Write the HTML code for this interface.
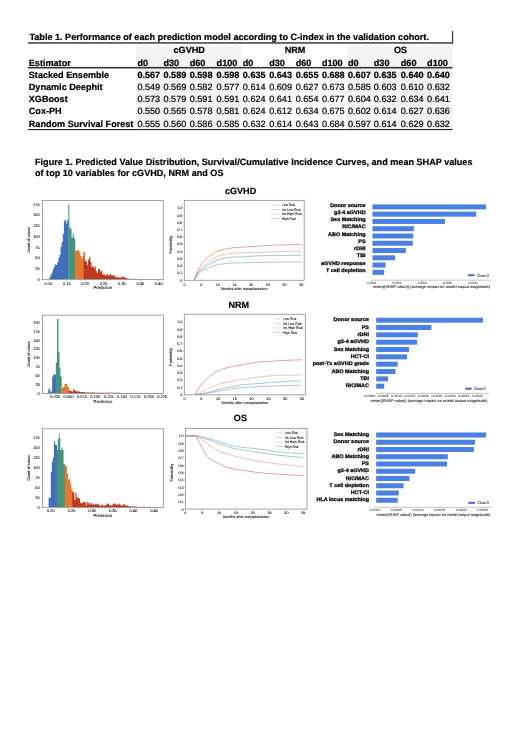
<!DOCTYPE html>
<html><head><meta charset="utf-8"><title>Table 1 and Figure 1</title>
<style>
html,body{margin:0;padding:0;background:#fff;}
body{width:520px;height:735px;overflow:hidden;}
svg{display:block;font-family:"Liberation Sans", sans-serif;text-rendering:geometricPrecision;will-change:transform;}
</style></head><body>
<svg width="520" height="735" viewBox="0 0 520 735">
<rect width="520" height="735" fill="#fff"/>
<rect x="136.30" y="45.50" width="104.90" height="84.00" fill="#f3f3f3" />
<rect x="346.90" y="45.50" width="105.60" height="84.00" fill="#f3f3f3" />
<text x="29.40" y="40.00" font-size="9.1" font-weight="bold" stroke="#000" stroke-width="0.22" text-anchor="start" fill="#000" >Table 1. Performance of each prediction model according to C-index in the validation cohort.</text>
<rect x="28.00" y="42.20" width="425.00" height="1.50" fill="#3c3c3c" />
<rect x="451.90" y="31.00" width="1.30" height="12.50" fill="#3c3c3c" />
<text x="189.20" y="52.60" font-size="9.1" font-weight="bold" stroke="#000" stroke-width="0.22" text-anchor="middle" fill="#000" >cGVHD</text>
<text x="295.10" y="52.60" font-size="9.1" font-weight="bold" stroke="#000" stroke-width="0.22" text-anchor="middle" fill="#000" >NRM</text>
<text x="400.50" y="52.60" font-size="9.1" font-weight="bold" stroke="#000" stroke-width="0.22" text-anchor="middle" fill="#000" >OS</text>
<text x="28.80" y="65.90" font-size="9.1" font-weight="bold" stroke="#000" stroke-width="0.22" text-anchor="start" fill="#000" >Estimator</text>
<text x="137.40" y="65.90" font-size="9.1" font-weight="bold" stroke="#000" stroke-width="0.22" text-anchor="start" fill="#000" >d0</text>
<text x="163.50" y="65.90" font-size="9.1" font-weight="bold" stroke="#000" stroke-width="0.22" text-anchor="start" fill="#000" >d30</text>
<text x="189.70" y="65.90" font-size="9.1" font-weight="bold" stroke="#000" stroke-width="0.22" text-anchor="start" fill="#000" >d60</text>
<text x="216.60" y="65.90" font-size="9.1" font-weight="bold" stroke="#000" stroke-width="0.22" text-anchor="start" fill="#000" >d100</text>
<text x="242.80" y="65.90" font-size="9.1" font-weight="bold" stroke="#000" stroke-width="0.22" text-anchor="start" fill="#000" >d0</text>
<text x="269.20" y="65.90" font-size="9.1" font-weight="bold" stroke="#000" stroke-width="0.22" text-anchor="start" fill="#000" >d30</text>
<text x="295.70" y="65.90" font-size="9.1" font-weight="bold" stroke="#000" stroke-width="0.22" text-anchor="start" fill="#000" >d60</text>
<text x="321.90" y="65.90" font-size="9.1" font-weight="bold" stroke="#000" stroke-width="0.22" text-anchor="start" fill="#000" >d100</text>
<text x="348.00" y="65.90" font-size="9.1" font-weight="bold" stroke="#000" stroke-width="0.22" text-anchor="start" fill="#000" >d0</text>
<text x="373.80" y="65.90" font-size="9.1" font-weight="bold" stroke="#000" stroke-width="0.22" text-anchor="start" fill="#000" >d30</text>
<text x="400.80" y="65.90" font-size="9.1" font-weight="bold" stroke="#000" stroke-width="0.22" text-anchor="start" fill="#000" >d60</text>
<text x="427.10" y="65.90" font-size="9.1" font-weight="bold" stroke="#000" stroke-width="0.22" text-anchor="start" fill="#000" >d100</text>
<rect x="28.00" y="66.90" width="424.50" height="1.60" fill="#353535" />
<text x="28.80" y="77.70" font-size="9.1" font-weight="bold" stroke="#000" stroke-width="0.22" text-anchor="start" fill="#000" >Stacked Ensemble</text>
<text x="137.40" y="77.70" font-size="9.1" font-weight="bold" stroke="#000" stroke-width="0.22" text-anchor="start" fill="#000" >0.567</text>
<text x="163.50" y="77.70" font-size="9.1" font-weight="bold" stroke="#000" stroke-width="0.22" text-anchor="start" fill="#000" >0.589</text>
<text x="189.70" y="77.70" font-size="9.1" font-weight="bold" stroke="#000" stroke-width="0.22" text-anchor="start" fill="#000" >0.598</text>
<text x="216.60" y="77.70" font-size="9.1" font-weight="bold" stroke="#000" stroke-width="0.22" text-anchor="start" fill="#000" >0.598</text>
<text x="242.80" y="77.70" font-size="9.1" font-weight="bold" stroke="#000" stroke-width="0.22" text-anchor="start" fill="#000" >0.635</text>
<text x="269.20" y="77.70" font-size="9.1" font-weight="bold" stroke="#000" stroke-width="0.22" text-anchor="start" fill="#000" >0.643</text>
<text x="295.70" y="77.70" font-size="9.1" font-weight="bold" stroke="#000" stroke-width="0.22" text-anchor="start" fill="#000" >0.655</text>
<text x="321.90" y="77.70" font-size="9.1" font-weight="bold" stroke="#000" stroke-width="0.22" text-anchor="start" fill="#000" >0.688</text>
<text x="348.00" y="77.70" font-size="9.1" font-weight="bold" stroke="#000" stroke-width="0.22" text-anchor="start" fill="#000" >0.607</text>
<text x="373.80" y="77.70" font-size="9.1" font-weight="bold" stroke="#000" stroke-width="0.22" text-anchor="start" fill="#000" >0.635</text>
<text x="400.80" y="77.70" font-size="9.1" font-weight="bold" stroke="#000" stroke-width="0.22" text-anchor="start" fill="#000" >0.640</text>
<text x="427.10" y="77.70" font-size="9.1" font-weight="bold" stroke="#000" stroke-width="0.22" text-anchor="start" fill="#000" >0.640</text>
<text x="28.80" y="89.70" font-size="9.1" font-weight="bold" stroke="#000" stroke-width="0.22" text-anchor="start" fill="#000" >Dynamic Deephit</text>
<text x="137.40" y="89.70" font-size="9.1" stroke="#000" stroke-width="0.22" text-anchor="start" fill="#000" >0.549</text>
<text x="163.50" y="89.70" font-size="9.1" stroke="#000" stroke-width="0.22" text-anchor="start" fill="#000" >0.569</text>
<text x="189.70" y="89.70" font-size="9.1" stroke="#000" stroke-width="0.22" text-anchor="start" fill="#000" >0.582</text>
<text x="216.60" y="89.70" font-size="9.1" stroke="#000" stroke-width="0.22" text-anchor="start" fill="#000" >0.577</text>
<text x="242.80" y="89.70" font-size="9.1" stroke="#000" stroke-width="0.22" text-anchor="start" fill="#000" >0.614</text>
<text x="269.20" y="89.70" font-size="9.1" stroke="#000" stroke-width="0.22" text-anchor="start" fill="#000" >0.609</text>
<text x="295.70" y="89.70" font-size="9.1" stroke="#000" stroke-width="0.22" text-anchor="start" fill="#000" >0.627</text>
<text x="321.90" y="89.70" font-size="9.1" stroke="#000" stroke-width="0.22" text-anchor="start" fill="#000" >0.673</text>
<text x="348.00" y="89.70" font-size="9.1" stroke="#000" stroke-width="0.22" text-anchor="start" fill="#000" >0.585</text>
<text x="373.80" y="89.70" font-size="9.1" stroke="#000" stroke-width="0.22" text-anchor="start" fill="#000" >0.603</text>
<text x="400.80" y="89.70" font-size="9.1" stroke="#000" stroke-width="0.22" text-anchor="start" fill="#000" >0.610</text>
<text x="427.10" y="89.70" font-size="9.1" stroke="#000" stroke-width="0.22" text-anchor="start" fill="#000" >0.632</text>
<text x="28.80" y="101.90" font-size="9.1" font-weight="bold" stroke="#000" stroke-width="0.22" text-anchor="start" fill="#000" >XGBoost</text>
<text x="137.40" y="101.90" font-size="9.1" stroke="#000" stroke-width="0.22" text-anchor="start" fill="#000" >0.573</text>
<text x="163.50" y="101.90" font-size="9.1" stroke="#000" stroke-width="0.22" text-anchor="start" fill="#000" >0.579</text>
<text x="189.70" y="101.90" font-size="9.1" stroke="#000" stroke-width="0.22" text-anchor="start" fill="#000" >0.591</text>
<text x="216.60" y="101.90" font-size="9.1" stroke="#000" stroke-width="0.22" text-anchor="start" fill="#000" >0.591</text>
<text x="242.80" y="101.90" font-size="9.1" stroke="#000" stroke-width="0.22" text-anchor="start" fill="#000" >0.624</text>
<text x="269.20" y="101.90" font-size="9.1" stroke="#000" stroke-width="0.22" text-anchor="start" fill="#000" >0.641</text>
<text x="295.70" y="101.90" font-size="9.1" stroke="#000" stroke-width="0.22" text-anchor="start" fill="#000" >0.654</text>
<text x="321.90" y="101.90" font-size="9.1" stroke="#000" stroke-width="0.22" text-anchor="start" fill="#000" >0.677</text>
<text x="348.00" y="101.90" font-size="9.1" stroke="#000" stroke-width="0.22" text-anchor="start" fill="#000" >0.604</text>
<text x="373.80" y="101.90" font-size="9.1" stroke="#000" stroke-width="0.22" text-anchor="start" fill="#000" >0.632</text>
<text x="400.80" y="101.90" font-size="9.1" stroke="#000" stroke-width="0.22" text-anchor="start" fill="#000" >0.634</text>
<text x="427.10" y="101.90" font-size="9.1" stroke="#000" stroke-width="0.22" text-anchor="start" fill="#000" >0.641</text>
<text x="28.80" y="114.20" font-size="9.1" font-weight="bold" stroke="#000" stroke-width="0.22" text-anchor="start" fill="#000" >Cox-PH</text>
<text x="137.40" y="114.20" font-size="9.1" stroke="#000" stroke-width="0.22" text-anchor="start" fill="#000" >0.550</text>
<text x="163.50" y="114.20" font-size="9.1" stroke="#000" stroke-width="0.22" text-anchor="start" fill="#000" >0.565</text>
<text x="189.70" y="114.20" font-size="9.1" stroke="#000" stroke-width="0.22" text-anchor="start" fill="#000" >0.578</text>
<text x="216.60" y="114.20" font-size="9.1" stroke="#000" stroke-width="0.22" text-anchor="start" fill="#000" >0.581</text>
<text x="242.80" y="114.20" font-size="9.1" stroke="#000" stroke-width="0.22" text-anchor="start" fill="#000" >0.624</text>
<text x="269.20" y="114.20" font-size="9.1" stroke="#000" stroke-width="0.22" text-anchor="start" fill="#000" >0.612</text>
<text x="295.70" y="114.20" font-size="9.1" stroke="#000" stroke-width="0.22" text-anchor="start" fill="#000" >0.634</text>
<text x="321.90" y="114.20" font-size="9.1" stroke="#000" stroke-width="0.22" text-anchor="start" fill="#000" >0.675</text>
<text x="348.00" y="114.20" font-size="9.1" stroke="#000" stroke-width="0.22" text-anchor="start" fill="#000" >0.602</text>
<text x="373.80" y="114.20" font-size="9.1" stroke="#000" stroke-width="0.22" text-anchor="start" fill="#000" >0.614</text>
<text x="400.80" y="114.20" font-size="9.1" stroke="#000" stroke-width="0.22" text-anchor="start" fill="#000" >0.627</text>
<text x="427.10" y="114.20" font-size="9.1" stroke="#000" stroke-width="0.22" text-anchor="start" fill="#000" >0.636</text>
<text x="28.80" y="126.70" font-size="9.1" font-weight="bold" stroke="#000" stroke-width="0.22" text-anchor="start" fill="#000" >Random Survival Forest</text>
<text x="137.40" y="126.70" font-size="9.1" stroke="#000" stroke-width="0.22" text-anchor="start" fill="#000" >0.555</text>
<text x="163.50" y="126.70" font-size="9.1" stroke="#000" stroke-width="0.22" text-anchor="start" fill="#000" >0.560</text>
<text x="189.70" y="126.70" font-size="9.1" stroke="#000" stroke-width="0.22" text-anchor="start" fill="#000" >0.586</text>
<text x="216.60" y="126.70" font-size="9.1" stroke="#000" stroke-width="0.22" text-anchor="start" fill="#000" >0.585</text>
<text x="242.80" y="126.70" font-size="9.1" stroke="#000" stroke-width="0.22" text-anchor="start" fill="#000" >0.632</text>
<text x="269.20" y="126.70" font-size="9.1" stroke="#000" stroke-width="0.22" text-anchor="start" fill="#000" >0.614</text>
<text x="295.70" y="126.70" font-size="9.1" stroke="#000" stroke-width="0.22" text-anchor="start" fill="#000" >0.643</text>
<text x="321.90" y="126.70" font-size="9.1" stroke="#000" stroke-width="0.22" text-anchor="start" fill="#000" >0.684</text>
<text x="348.00" y="126.70" font-size="9.1" stroke="#000" stroke-width="0.22" text-anchor="start" fill="#000" >0.597</text>
<text x="373.80" y="126.70" font-size="9.1" stroke="#000" stroke-width="0.22" text-anchor="start" fill="#000" >0.614</text>
<text x="400.80" y="126.70" font-size="9.1" stroke="#000" stroke-width="0.22" text-anchor="start" fill="#000" >0.629</text>
<text x="427.10" y="126.70" font-size="9.1" stroke="#000" stroke-width="0.22" text-anchor="start" fill="#000" >0.632</text>
<rect x="28.00" y="129.00" width="424.50" height="1.10" fill="#222" />
<text x="35.00" y="164.50" font-size="9.1" font-weight="bold" stroke="#000" stroke-width="0.18" text-anchor="start" fill="#000" >Figure 1. Predicted Value Distribution, Survival/Cumulative Incidence Curves, and mean SHAP values</text>
<text x="35.00" y="175.75" font-size="9.1" font-weight="bold" stroke="#000" stroke-width="0.18" text-anchor="start" fill="#000" >of top 10 variables for cGVHD, NRM and OS</text>
<text x="240.60" y="193.60" font-size="9.1" font-weight="bold" stroke="#000" stroke-width="0.18" text-anchor="middle" fill="#000" >cGVHD</text>
<text x="238.80" y="307.70" font-size="9.1" font-weight="bold" stroke="#000" stroke-width="0.18" text-anchor="middle" fill="#000" >NRM</text>
<text x="240.40" y="421.10" font-size="9.1" font-weight="bold" stroke="#000" stroke-width="0.18" text-anchor="middle" fill="#000" >OS</text>
<path d="M49.60,279.60 L49.60,277.08 L50.70,277.08 L50.70,274.86 L51.80,274.86 L51.80,272.40 L52.90,272.40 L52.90,268.94 L54.00,268.94 L54.00,266.17 L55.10,266.17 L55.10,264.44 L56.20,264.44 L56.20,264.75 L57.30,264.75 L57.30,262.29 L58.40,262.29 L58.40,258.03 L59.50,258.03 L59.50,254.95 L60.60,254.95 L60.60,246.92 L61.70,246.92 L61.70,241.90 L62.80,241.90 L62.80,233.95 L63.90,233.95 L63.90,220.82 L65.00,220.82 L65.00,219.94 L66.10,219.94 L66.10,223.60 L67.20,223.60 L67.20,219.67 L68.65,219.67 L68.65,279.60Z" fill="#4271c2"/>
<path d="M68.30,279.60 L68.30,204.50 L69.40,204.50 L69.40,227.31 L70.50,227.31 L70.50,229.10 L71.60,229.10 L71.60,237.72 L72.70,237.72 L72.70,233.43 L73.80,233.43 L73.80,238.28 L75.25,238.28 L75.25,279.60Z" fill="#46987f"/>
<path d="M74.90,279.60 L74.90,250.57 L76.00,250.57 L76.00,250.67 L77.10,250.67 L77.10,249.78 L78.20,249.78 L78.20,250.56 L79.30,250.56 L79.30,252.21 L80.40,252.21 L80.40,255.71 L81.50,255.71 L81.50,258.14 L82.60,258.14 L82.60,255.63 L84.05,255.63 L84.05,279.60Z" fill="#e97c35"/>
<path d="M83.70,279.60 L83.70,251.79 L84.80,251.79 L84.80,260.57 L85.90,260.57 L85.90,261.78 L87.00,261.78 L87.00,265.09 L88.10,265.09 L88.10,259.60 L89.20,259.60 L89.20,256.67 L90.30,256.67 L90.30,261.79 L91.40,261.79 L91.40,267.03 L92.50,267.03 L92.50,265.69 L93.60,265.69 L93.60,268.19 L94.70,268.19 L94.70,266.35 L95.80,266.35 L95.80,270.97 L96.90,270.97 L96.90,272.88 L98.00,272.88 L98.00,269.36 L99.10,269.36 L99.10,268.65 L100.20,268.65 L100.20,271.65 L101.30,271.65 L101.30,270.81 L102.40,270.81 L102.40,274.13 L103.50,274.13 L103.50,274.63 L104.60,274.63 L104.60,274.43 L105.70,274.43 L105.70,275.84 L106.80,275.84 L106.80,273.66 L107.90,273.66 L107.90,275.06 L109.00,275.06 L109.00,275.77 L110.10,275.77 L110.10,273.85 L111.20,273.85 L111.20,275.18 L112.30,275.18 L112.30,275.55 L113.40,275.55 L113.40,275.10 L114.50,275.10 L114.50,276.40 L115.60,276.40 L115.60,277.01 L116.70,277.01 L116.70,277.83 L117.80,277.83 L117.80,276.71 L118.90,276.71 L118.90,277.76 L120.00,277.76 L120.00,277.60 L121.10,277.60 L121.10,277.57 L122.20,277.57 L122.20,276.13 L123.30,276.13 L123.30,277.13 L124.40,277.13 L124.40,277.28 L125.50,277.28 L125.50,277.92 L126.60,277.92 L126.60,278.46 L127.70,278.46 L127.70,278.43 L128.80,278.43 L128.80,278.76 L129.90,278.76 L129.90,278.96 L131.00,278.96 L131.00,278.91 L132.10,278.91 L132.10,278.76 L133.20,278.76 L133.20,279.05 L134.30,279.05 L134.30,278.78 L135.40,278.78 L135.40,279.09 L136.50,279.09 L136.50,279.16 L137.60,279.16 L137.60,278.82 L138.70,278.82 L138.70,278.99 L139.80,278.99 L139.80,279.14 L140.90,279.14 L140.90,279.09 L142.00,279.09 L142.00,279.19 L143.10,279.19 L143.10,279.03 L144.20,279.03 L144.20,279.02 L145.30,279.02 L145.30,279.11 L146.40,279.11 L146.40,279.07 L147.50,279.07 L147.50,278.91 L148.60,278.91 L148.60,278.94 L149.70,278.94 L149.70,279.21 L150.80,279.21 L150.80,279.12 L151.90,279.12 L151.90,279.03 L153.00,279.03 L153.00,279.01 L154.10,279.01 L154.10,279.06 L155.20,279.06 L155.20,279.01 L156.30,279.01 L156.30,279.28 L157.40,279.28 L157.40,279.31 L158.50,279.31 L158.50,279.17 L159.60,279.17 L159.60,279.32 L161.05,279.32 L161.05,279.60Z" fill="#c23c22"/>
<path d="M49.60,277.38V279.60M50.70,275.16V279.60M51.80,272.70V279.60M52.90,269.24V279.60M54.00,266.47V279.60M55.10,264.74V279.60M56.20,265.05V279.60M57.30,262.59V279.60M58.40,258.33V279.60M59.50,255.25V279.60M60.60,247.22V279.60M61.70,242.20V279.60M62.80,234.25V279.60M63.90,221.12V279.60M65.00,220.24V279.60M66.10,223.90V279.60M67.20,219.97V279.60M68.30,204.80V279.60M69.40,227.61V279.60M70.50,229.40V279.60M71.60,238.02V279.60M72.70,233.73V279.60M73.80,238.58V279.60M74.90,250.87V279.60M76.00,250.97V279.60M77.10,250.08V279.60M78.20,250.86V279.60M79.30,252.51V279.60M80.40,256.01V279.60M81.50,258.44V279.60M82.60,255.93V279.60M83.70,252.09V279.60M84.80,260.87V279.60M85.90,262.08V279.60M87.00,265.39V279.60M88.10,259.90V279.60M89.20,256.97V279.60M90.30,262.09V279.60M91.40,267.33V279.60M92.50,265.99V279.60M93.60,268.49V279.60M94.70,266.65V279.60M95.80,271.27V279.60M96.90,273.18V279.60M98.00,269.66V279.60M99.10,268.95V279.60M100.20,271.95V279.60M101.30,271.11V279.60M102.40,274.43V279.60M103.50,274.93V279.60M104.60,274.73V279.60M105.70,276.14V279.60M106.80,273.96V279.60M107.90,275.36V279.60M109.00,276.07V279.60M110.10,274.15V279.60M111.20,275.48V279.60M112.30,275.85V279.60M113.40,275.40V279.60M114.50,276.70V279.60M115.60,277.31V279.60M116.70,278.13V279.60M117.80,277.01V279.60M118.90,278.06V279.60M120.00,277.90V279.60M121.10,277.87V279.60M122.20,276.43V279.60M123.30,277.43V279.60M124.40,277.58V279.60M125.50,278.22V279.60M126.60,278.76V279.60M127.70,278.73V279.60" stroke="#000" stroke-opacity="0.10" stroke-width="0.3" fill="none"/>
<rect x="42.40" y="200.50" width="120.90" height="79.10" fill="none" stroke="#9a9a9a" stroke-width="0.9"/>
<line x1="41.20" y1="279.60" x2="42.40" y2="279.60" stroke="#9a9a9a" stroke-width="0.5" />
<text x="39.80" y="281.00" font-size="4.0" stroke="#111" stroke-width="0.09" text-anchor="end" fill="#111" >0</text>
<line x1="41.20" y1="268.83" x2="42.40" y2="268.83" stroke="#9a9a9a" stroke-width="0.5" />
<text x="39.80" y="270.23" font-size="4.0" stroke="#111" stroke-width="0.09" text-anchor="end" fill="#111" >25</text>
<line x1="41.20" y1="258.06" x2="42.40" y2="258.06" stroke="#9a9a9a" stroke-width="0.5" />
<text x="39.80" y="259.46" font-size="4.0" stroke="#111" stroke-width="0.09" text-anchor="end" fill="#111" >50</text>
<line x1="41.20" y1="247.29" x2="42.40" y2="247.29" stroke="#9a9a9a" stroke-width="0.5" />
<text x="39.80" y="248.69" font-size="4.0" stroke="#111" stroke-width="0.09" text-anchor="end" fill="#111" >75</text>
<line x1="41.20" y1="236.52" x2="42.40" y2="236.52" stroke="#9a9a9a" stroke-width="0.5" />
<text x="39.80" y="237.92" font-size="4.0" stroke="#111" stroke-width="0.09" text-anchor="end" fill="#111" >100</text>
<line x1="41.20" y1="225.75" x2="42.40" y2="225.75" stroke="#9a9a9a" stroke-width="0.5" />
<text x="39.80" y="227.15" font-size="4.0" stroke="#111" stroke-width="0.09" text-anchor="end" fill="#111" >125</text>
<line x1="41.20" y1="214.98" x2="42.40" y2="214.98" stroke="#9a9a9a" stroke-width="0.5" />
<text x="39.80" y="216.38" font-size="4.0" stroke="#111" stroke-width="0.09" text-anchor="end" fill="#111" >150</text>
<line x1="41.20" y1="204.21" x2="42.40" y2="204.21" stroke="#9a9a9a" stroke-width="0.5" />
<text x="39.80" y="205.61" font-size="4.0" stroke="#111" stroke-width="0.09" text-anchor="end" fill="#111" >175</text>
<line x1="48.40" y1="279.60" x2="48.40" y2="280.80" stroke="#9a9a9a" stroke-width="0.5" />
<text x="48.40" y="284.60" font-size="4.0" stroke="#111" stroke-width="0.09" text-anchor="middle" fill="#111" >0.10</text>
<line x1="66.79" y1="279.60" x2="66.79" y2="280.80" stroke="#9a9a9a" stroke-width="0.5" />
<text x="66.79" y="284.60" font-size="4.0" stroke="#111" stroke-width="0.09" text-anchor="middle" fill="#111" >0.15</text>
<line x1="85.18" y1="279.60" x2="85.18" y2="280.80" stroke="#9a9a9a" stroke-width="0.5" />
<text x="85.18" y="284.60" font-size="4.0" stroke="#111" stroke-width="0.09" text-anchor="middle" fill="#111" >0.20</text>
<line x1="103.57" y1="279.60" x2="103.57" y2="280.80" stroke="#9a9a9a" stroke-width="0.5" />
<text x="103.57" y="284.60" font-size="4.0" stroke="#111" stroke-width="0.09" text-anchor="middle" fill="#111" >0.25</text>
<line x1="121.96" y1="279.60" x2="121.96" y2="280.80" stroke="#9a9a9a" stroke-width="0.5" />
<text x="121.96" y="284.60" font-size="4.0" stroke="#111" stroke-width="0.09" text-anchor="middle" fill="#111" >0.30</text>
<line x1="140.35" y1="279.60" x2="140.35" y2="280.80" stroke="#9a9a9a" stroke-width="0.5" />
<text x="140.35" y="284.60" font-size="4.0" stroke="#111" stroke-width="0.09" text-anchor="middle" fill="#111" >0.35</text>
<line x1="158.74" y1="279.60" x2="158.74" y2="280.80" stroke="#9a9a9a" stroke-width="0.5" />
<text x="158.74" y="284.60" font-size="4.0" stroke="#111" stroke-width="0.09" text-anchor="middle" fill="#111" >0.40</text>
<text x="102.85" y="289.20" font-size="4.2" stroke="#111" stroke-width="0.09" text-anchor="middle" fill="#111" >Prediction</text>
<text x="0" y="0" font-size="3.9" text-anchor="middle" fill="#111" stroke="#111" stroke-width="0.09" transform="translate(30.20,240.05) rotate(-90)">Count of cases</text>
<path d="M48.35,393.40 L48.35,389.10 L50.08,389.10 L50.08,391.60 L52.15,391.60 L52.15,376.60 L53.54,376.60 L53.54,373.70 L54.92,373.70 L54.92,374.90 L56.20,374.90 L56.20,393.40Z" fill="#4271c2"/>
<path d="M55.85,393.40 L55.85,362.80 L57.00,362.80 L57.00,318.90 L58.50,318.90 L58.50,351.80 L59.54,351.80 L59.54,368.50 L60.46,368.50 L60.46,376.60 L61.73,376.60 L61.73,393.40Z" fill="#46987f"/>
<path d="M61.38,393.40 L61.38,388.20 L62.77,388.20 L62.77,387.00 L64.50,387.00 L64.50,384.10 L66.23,384.10 L66.23,383.50 L67.38,383.50 L67.38,387.00 L69.12,387.00 L69.12,393.40Z" fill="#e97c35"/>
<path d="M68.77,393.40 L68.77,390.50 L70.27,390.50 L70.27,391.20 L72.00,391.20 L72.00,391.60 L73.15,391.60 L73.15,389.30 L74.54,389.30 L74.54,391.00 L77.00,391.00 L77.00,391.60 L80.00,391.60 L80.00,392.00 L85.00,392.00 L85.00,392.40 L95.00,392.40 L95.00,392.70 L120.00,392.70 L120.00,392.90 L161.35,392.90 L161.35,393.40Z" fill="#c23c22"/>
<path d="M48.35,389.40V393.40M50.08,391.90V393.40M52.15,376.90V393.40M53.54,374.00V393.40M54.92,375.20V393.40M55.85,363.10V393.40M57.00,319.20V393.40M58.50,352.10V393.40M59.54,368.80V393.40M60.46,376.90V393.40M61.38,388.50V393.40M62.77,387.30V393.40M64.50,384.40V393.40M66.23,383.80V393.40M67.38,387.30V393.40M68.77,390.80V393.40M70.27,391.50V393.40M72.00,391.90V393.40M73.15,389.60V393.40M74.54,391.30V393.40M77.00,391.90V393.40M80.00,392.30V393.40" stroke="#000" stroke-opacity="0.10" stroke-width="0.3" fill="none"/>
<rect x="42.45" y="315.20" width="120.95" height="78.20" fill="none" stroke="#9a9a9a" stroke-width="0.9"/>
<line x1="41.25" y1="393.40" x2="42.45" y2="393.40" stroke="#9a9a9a" stroke-width="0.5" />
<text x="39.85" y="394.80" font-size="4.0" stroke="#111" stroke-width="0.09" text-anchor="end" fill="#111" >0</text>
<line x1="41.25" y1="384.52" x2="42.45" y2="384.52" stroke="#9a9a9a" stroke-width="0.5" />
<text x="39.85" y="385.92" font-size="4.0" stroke="#111" stroke-width="0.09" text-anchor="end" fill="#111" >25</text>
<line x1="41.25" y1="375.65" x2="42.45" y2="375.65" stroke="#9a9a9a" stroke-width="0.5" />
<text x="39.85" y="377.05" font-size="4.0" stroke="#111" stroke-width="0.09" text-anchor="end" fill="#111" >50</text>
<line x1="41.25" y1="366.77" x2="42.45" y2="366.77" stroke="#9a9a9a" stroke-width="0.5" />
<text x="39.85" y="368.17" font-size="4.0" stroke="#111" stroke-width="0.09" text-anchor="end" fill="#111" >75</text>
<line x1="41.25" y1="357.90" x2="42.45" y2="357.90" stroke="#9a9a9a" stroke-width="0.5" />
<text x="39.85" y="359.30" font-size="4.0" stroke="#111" stroke-width="0.09" text-anchor="end" fill="#111" >100</text>
<line x1="41.25" y1="349.02" x2="42.45" y2="349.02" stroke="#9a9a9a" stroke-width="0.5" />
<text x="39.85" y="350.42" font-size="4.0" stroke="#111" stroke-width="0.09" text-anchor="end" fill="#111" >125</text>
<line x1="41.25" y1="340.15" x2="42.45" y2="340.15" stroke="#9a9a9a" stroke-width="0.5" />
<text x="39.85" y="341.55" font-size="4.0" stroke="#111" stroke-width="0.09" text-anchor="end" fill="#111" >150</text>
<line x1="41.25" y1="331.27" x2="42.45" y2="331.27" stroke="#9a9a9a" stroke-width="0.5" />
<text x="39.85" y="332.67" font-size="4.0" stroke="#111" stroke-width="0.09" text-anchor="end" fill="#111" >175</text>
<line x1="41.25" y1="322.40" x2="42.45" y2="322.40" stroke="#9a9a9a" stroke-width="0.5" />
<text x="39.85" y="323.80" font-size="4.0" stroke="#111" stroke-width="0.09" text-anchor="end" fill="#111" >200</text>
<line x1="55.10" y1="393.40" x2="55.10" y2="394.60" stroke="#9a9a9a" stroke-width="0.5" />
<text x="55.10" y="398.40" font-size="4.0" stroke="#111" stroke-width="0.09" text-anchor="middle" fill="#111" >0.025</text>
<line x1="68.50" y1="393.40" x2="68.50" y2="394.60" stroke="#9a9a9a" stroke-width="0.5" />
<text x="68.50" y="398.40" font-size="4.0" stroke="#111" stroke-width="0.09" text-anchor="middle" fill="#111" >0.050</text>
<line x1="81.90" y1="393.40" x2="81.90" y2="394.60" stroke="#9a9a9a" stroke-width="0.5" />
<text x="81.90" y="398.40" font-size="4.0" stroke="#111" stroke-width="0.09" text-anchor="middle" fill="#111" >0.075</text>
<line x1="95.30" y1="393.40" x2="95.30" y2="394.60" stroke="#9a9a9a" stroke-width="0.5" />
<text x="95.30" y="398.40" font-size="4.0" stroke="#111" stroke-width="0.09" text-anchor="middle" fill="#111" >0.100</text>
<line x1="108.70" y1="393.40" x2="108.70" y2="394.60" stroke="#9a9a9a" stroke-width="0.5" />
<text x="108.70" y="398.40" font-size="4.0" stroke="#111" stroke-width="0.09" text-anchor="middle" fill="#111" >0.125</text>
<line x1="122.10" y1="393.40" x2="122.10" y2="394.60" stroke="#9a9a9a" stroke-width="0.5" />
<text x="122.10" y="398.40" font-size="4.0" stroke="#111" stroke-width="0.09" text-anchor="middle" fill="#111" >0.150</text>
<line x1="135.50" y1="393.40" x2="135.50" y2="394.60" stroke="#9a9a9a" stroke-width="0.5" />
<text x="135.50" y="398.40" font-size="4.0" stroke="#111" stroke-width="0.09" text-anchor="middle" fill="#111" >0.175</text>
<line x1="148.90" y1="393.40" x2="148.90" y2="394.60" stroke="#9a9a9a" stroke-width="0.5" />
<text x="148.90" y="398.40" font-size="4.0" stroke="#111" stroke-width="0.09" text-anchor="middle" fill="#111" >0.200</text>
<line x1="162.30" y1="393.40" x2="162.30" y2="394.60" stroke="#9a9a9a" stroke-width="0.5" />
<text x="162.30" y="398.40" font-size="4.0" stroke="#111" stroke-width="0.09" text-anchor="middle" fill="#111" >0.225</text>
<text x="102.93" y="403.00" font-size="4.2" stroke="#111" stroke-width="0.09" text-anchor="middle" fill="#111" >Prediction</text>
<text x="0" y="0" font-size="3.9" text-anchor="middle" fill="#111" stroke="#111" stroke-width="0.09" transform="translate(30.25,354.30) rotate(-90)">Count of cases</text>
<path d="M48.60,507.40 L48.60,497.80 L50.80,497.80 L50.80,472.10 L51.90,472.10 L51.90,461.50 L53.00,461.50 L53.00,457.40 L53.90,457.40 L53.90,441.60 L55.20,441.60 L55.20,444.90 L57.05,444.90 L57.05,507.40Z" fill="#4271c2"/>
<path d="M56.70,507.40 L56.70,450.00 L57.80,450.00 L57.80,439.00 L58.90,439.00 L58.90,432.80 L59.60,432.80 L59.60,437.60 L60.30,437.60 L60.30,450.00 L61.40,450.00 L61.40,447.50 L62.50,447.50 L62.50,450.00 L63.60,450.00 L63.60,464.00 L65.10,464.00 L65.10,507.40Z" fill="#46987f"/>
<path d="M64.75,507.40 L64.75,466.20 L65.85,466.20 L65.85,465.50 L67.00,465.50 L67.00,473.60 L68.00,473.60 L68.00,479.50 L69.20,479.50 L69.20,478.70 L70.30,478.70 L70.30,484.00 L71.20,484.00 L71.20,488.50 L72.45,488.50 L72.45,507.40Z" fill="#e97c35"/>
<path d="M48.60,498.10V507.40M50.80,472.40V507.40M51.90,461.80V507.40M53.00,457.70V507.40M53.90,441.90V507.40M55.20,445.20V507.40M56.70,450.30V507.40M57.80,439.30V507.40M58.90,433.10V507.40M59.60,437.90V507.40M60.30,450.30V507.40M61.40,447.80V507.40M62.50,450.30V507.40M63.60,464.30V507.40M64.75,466.50V507.40M65.85,465.80V507.40M67.00,473.90V507.40M68.00,479.80V507.40M69.20,479.00V507.40M70.30,484.30V507.40M71.20,488.80V507.40" stroke="#000" stroke-opacity="0.10" stroke-width="0.3" fill="none"/>
<path d="M72.10,507.40 L72.10,491.88 L73.25,491.88 L73.25,492.24 L74.40,492.24 L74.40,499.82 L75.55,499.82 L75.55,492.79 L76.70,492.79 L76.70,497.51 L77.85,497.51 L77.85,498.06 L79.00,498.06 L79.00,498.42 L80.15,498.42 L80.15,503.34 L81.30,503.34 L81.30,502.78 L82.45,502.78 L82.45,502.76 L83.60,502.76 L83.60,501.59 L84.75,501.59 L84.75,502.37 L85.90,502.37 L85.90,505.17 L87.05,505.17 L87.05,501.97 L88.20,501.97 L88.20,502.73 L89.35,502.73 L89.35,504.50 L90.50,504.50 L90.50,502.80 L91.65,502.80 L91.65,504.50 L92.80,504.50 L92.80,503.84 L93.95,503.84 L93.95,504.89 L95.10,504.89 L95.10,503.69 L96.25,503.69 L96.25,504.38 L97.40,504.38 L97.40,503.87 L98.55,503.87 L98.55,504.81 L99.70,504.81 L99.70,505.73 L100.85,505.73 L100.85,505.15 L102.00,505.15 L102.00,504.72 L103.15,504.72 L103.15,506.11 L104.30,506.11 L104.30,505.66 L105.45,505.66 L105.45,505.03 L106.60,505.03 L106.60,503.22 L107.75,503.22 L107.75,504.02 L108.90,504.02 L108.90,505.34 L110.05,505.34 L110.05,504.94 L111.20,504.94 L111.20,505.71 L112.35,505.71 L112.35,504.55 L113.50,504.55 L113.50,503.23 L114.65,503.23 L114.65,503.67 L115.80,503.67 L115.80,504.94 L116.95,504.94 L116.95,504.17 L118.10,504.17 L118.10,504.66 L119.25,504.66 L119.25,503.62 L120.40,503.62 L120.40,505.15 L121.55,505.15 L121.55,505.82 L122.70,505.82 L122.70,504.48 L123.85,504.48 L123.85,504.32 L125.00,504.32 L125.00,505.65 L126.15,505.65 L126.15,505.14 L127.30,505.14 L127.30,506.12 L128.45,506.12 L128.45,506.26 L129.60,506.26 L129.60,506.12 L130.75,506.12 L130.75,506.69 L131.90,506.69 L131.90,506.13 L133.05,506.13 L133.05,506.57 L134.20,506.57 L134.20,506.70 L135.35,506.70 L135.35,506.30 L136.50,506.30 L136.50,506.71 L137.65,506.71 L137.65,506.90 L138.80,506.90 L138.80,506.82 L139.95,506.82 L139.95,506.96 L141.10,506.96 L141.10,506.97 L142.25,506.97 L142.25,507.05 L143.40,507.05 L143.40,506.56 L144.55,506.56 L144.55,507.10 L145.70,507.10 L145.70,507.07 L146.85,507.07 L146.85,507.10 L148.00,507.10 L148.00,506.76 L149.15,506.76 L149.15,507.00 L150.30,507.00 L150.30,506.92 L151.45,506.92 L151.45,506.98 L152.60,506.98 L152.60,506.99 L153.75,506.99 L153.75,506.90 L154.90,506.90 L154.90,507.09 L156.05,507.09 L156.05,507.19 L157.20,507.19 L157.20,507.11 L158.35,507.11 L158.35,506.95 L159.50,506.95 L159.50,507.17 L161.00,507.17 L161.00,507.40Z" fill="#c23c22"/>
<path d="M72.10,492.18V507.40M73.25,492.54V507.40M74.40,500.12V507.40M75.55,493.09V507.40M76.70,497.81V507.40M77.85,498.36V507.40M79.00,498.72V507.40M80.15,503.64V507.40M81.30,503.08V507.40M82.45,503.06V507.40M83.60,501.89V507.40M84.75,502.67V507.40M85.90,505.47V507.40M87.05,502.27V507.40M88.20,503.03V507.40M89.35,504.80V507.40M90.50,503.10V507.40M91.65,504.80V507.40M92.80,504.14V507.40M93.95,505.19V507.40M95.10,503.99V507.40M96.25,504.68V507.40M97.40,504.17V507.40M98.55,505.11V507.40M99.70,506.03V507.40M100.85,505.45V507.40M102.00,505.02V507.40M103.15,506.41V507.40M104.30,505.96V507.40M105.45,505.33V507.40M106.60,503.52V507.40M107.75,504.32V507.40M108.90,505.64V507.40M110.05,505.24V507.40M111.20,506.01V507.40M112.35,504.85V507.40M113.50,503.53V507.40M114.65,503.97V507.40M115.80,505.24V507.40M116.95,504.47V507.40M118.10,504.96V507.40M119.25,503.92V507.40M120.40,505.45V507.40M121.55,506.12V507.40M122.70,504.78V507.40M123.85,504.62V507.40M125.00,505.95V507.40M126.15,505.44V507.40M127.30,506.42V507.40M128.45,506.56V507.40M129.60,506.42V507.40M131.90,506.43V507.40M135.35,506.60V507.40" stroke="#000" stroke-opacity="0.10" stroke-width="0.3" fill="none"/>
<rect x="42.40" y="428.70" width="121.00" height="78.70" fill="none" stroke="#9a9a9a" stroke-width="0.9"/>
<line x1="41.20" y1="507.40" x2="42.40" y2="507.40" stroke="#9a9a9a" stroke-width="0.5" />
<text x="39.80" y="508.80" font-size="4.0" stroke="#111" stroke-width="0.09" text-anchor="end" fill="#111" >0</text>
<line x1="41.20" y1="497.39" x2="42.40" y2="497.39" stroke="#9a9a9a" stroke-width="0.5" />
<text x="39.80" y="498.79" font-size="4.0" stroke="#111" stroke-width="0.09" text-anchor="end" fill="#111" >25</text>
<line x1="41.20" y1="487.38" x2="42.40" y2="487.38" stroke="#9a9a9a" stroke-width="0.5" />
<text x="39.80" y="488.78" font-size="4.0" stroke="#111" stroke-width="0.09" text-anchor="end" fill="#111" >50</text>
<line x1="41.20" y1="477.37" x2="42.40" y2="477.37" stroke="#9a9a9a" stroke-width="0.5" />
<text x="39.80" y="478.77" font-size="4.0" stroke="#111" stroke-width="0.09" text-anchor="end" fill="#111" >75</text>
<line x1="41.20" y1="467.36" x2="42.40" y2="467.36" stroke="#9a9a9a" stroke-width="0.5" />
<text x="39.80" y="468.76" font-size="4.0" stroke="#111" stroke-width="0.09" text-anchor="end" fill="#111" >100</text>
<line x1="41.20" y1="457.35" x2="42.40" y2="457.35" stroke="#9a9a9a" stroke-width="0.5" />
<text x="39.80" y="458.75" font-size="4.0" stroke="#111" stroke-width="0.09" text-anchor="end" fill="#111" >125</text>
<line x1="41.20" y1="447.34" x2="42.40" y2="447.34" stroke="#9a9a9a" stroke-width="0.5" />
<text x="39.80" y="448.74" font-size="4.0" stroke="#111" stroke-width="0.09" text-anchor="end" fill="#111" >150</text>
<line x1="41.20" y1="437.33" x2="42.40" y2="437.33" stroke="#9a9a9a" stroke-width="0.5" />
<text x="39.80" y="438.73" font-size="4.0" stroke="#111" stroke-width="0.09" text-anchor="end" fill="#111" >175</text>
<line x1="50.90" y1="507.40" x2="50.90" y2="508.60" stroke="#9a9a9a" stroke-width="0.5" />
<text x="50.90" y="512.40" font-size="4.0" stroke="#111" stroke-width="0.09" text-anchor="middle" fill="#111" >0.20</text>
<line x1="71.54" y1="507.40" x2="71.54" y2="508.60" stroke="#9a9a9a" stroke-width="0.5" />
<text x="71.54" y="512.40" font-size="4.0" stroke="#111" stroke-width="0.09" text-anchor="middle" fill="#111" >0.25</text>
<line x1="92.18" y1="507.40" x2="92.18" y2="508.60" stroke="#9a9a9a" stroke-width="0.5" />
<text x="92.18" y="512.40" font-size="4.0" stroke="#111" stroke-width="0.09" text-anchor="middle" fill="#111" >0.30</text>
<line x1="112.82" y1="507.40" x2="112.82" y2="508.60" stroke="#9a9a9a" stroke-width="0.5" />
<text x="112.82" y="512.40" font-size="4.0" stroke="#111" stroke-width="0.09" text-anchor="middle" fill="#111" >0.35</text>
<line x1="133.46" y1="507.40" x2="133.46" y2="508.60" stroke="#9a9a9a" stroke-width="0.5" />
<text x="133.46" y="512.40" font-size="4.0" stroke="#111" stroke-width="0.09" text-anchor="middle" fill="#111" >0.40</text>
<line x1="154.10" y1="507.40" x2="154.10" y2="508.60" stroke="#9a9a9a" stroke-width="0.5" />
<text x="154.10" y="512.40" font-size="4.0" stroke="#111" stroke-width="0.09" text-anchor="middle" fill="#111" >0.45</text>
<text x="102.90" y="517.00" font-size="4.2" stroke="#111" stroke-width="0.09" text-anchor="middle" fill="#111" >Prediction</text>
<text x="0" y="0" font-size="3.9" text-anchor="middle" fill="#111" stroke="#111" stroke-width="0.09" transform="translate(30.20,468.05) rotate(-90)">Count of cases</text>
<rect x="184.30" y="200.40" width="119.90" height="79.90" fill="none" stroke="#9a9a9a" stroke-width="0.9"/>
<path d="M194.17,280.10 C194.60,279.49 195.90,277.51 196.71,276.42 C197.52,275.32 198.04,274.50 199.01,273.53 C199.98,272.56 201.17,271.44 202.51,270.57 C203.86,269.70 205.37,269.09 207.08,268.33 C208.80,267.57 210.88,266.65 212.79,266.02 C214.70,265.40 216.59,264.96 218.53,264.58 C220.46,264.19 222.45,263.95 224.40,263.71 C226.34,263.47 228.29,263.29 230.20,263.13 C232.12,262.98 233.59,262.83 235.87,262.77 C238.15,262.71 240.04,262.82 243.88,262.77 C247.72,262.72 253.89,262.57 258.89,262.48 C263.90,262.40 268.90,262.35 273.90,262.27 C278.91,262.18 284.30,262.03 288.92,261.98 C293.53,261.93 299.48,261.98 301.59,261.98" fill="none" stroke="#7b97c6" stroke-width="0.6" stroke-linejoin="round"/>
<path d="M194.17,280.10 C194.60,279.28 195.90,276.57 196.71,275.19 C197.52,273.81 198.04,272.84 199.01,271.80 C199.98,270.75 201.17,269.98 202.51,268.91 C203.86,267.84 205.37,266.53 207.08,265.37 C208.80,264.22 210.88,262.93 212.79,261.98 C214.70,261.03 216.59,260.29 218.53,259.67 C220.46,259.04 222.45,258.62 224.40,258.22 C226.34,257.83 228.29,257.49 230.20,257.28 C232.12,257.08 233.59,257.08 235.87,257.00 C238.15,256.91 240.04,256.98 243.88,256.78 C247.72,256.57 253.89,255.97 258.89,255.77 C263.90,255.56 268.90,255.61 273.90,255.55 C278.91,255.49 284.30,255.43 288.92,255.41 C293.53,255.38 299.48,255.41 301.59,255.41" fill="none" stroke="#66a69a" stroke-width="0.6" stroke-linejoin="round"/>
<path d="M194.17,280.10 C194.60,279.20 195.90,276.27 196.71,274.69 C197.52,273.10 198.04,271.82 199.01,270.57 C199.98,269.32 201.17,268.42 202.51,267.18 C203.86,265.94 205.37,264.48 207.08,263.13 C208.80,261.79 210.88,260.25 212.79,259.09 C214.70,257.93 216.59,256.97 218.53,256.20 C220.46,255.43 222.45,254.91 224.40,254.47 C226.34,254.02 228.29,253.76 230.20,253.53 C232.12,253.30 233.59,253.24 235.87,253.10 C238.15,252.95 240.04,252.74 243.88,252.66 C247.72,252.59 253.89,252.78 258.89,252.66 C263.90,252.54 268.90,252.17 273.90,251.94 C278.91,251.71 284.30,251.41 288.92,251.29 C293.53,251.17 299.48,251.23 301.59,251.22" fill="none" stroke="#e69a78" stroke-width="0.6" stroke-linejoin="round"/>
<path d="M194.17,280.10 C194.60,278.90 195.90,274.84 196.71,272.88 C197.52,270.92 198.04,269.96 199.01,268.33 C199.98,266.71 201.17,264.87 202.51,263.13 C203.86,261.40 205.37,259.57 207.08,257.93 C208.80,256.30 210.88,254.51 212.79,253.31 C214.70,252.12 216.59,251.46 218.53,250.79 C220.46,250.11 222.45,249.72 224.40,249.27 C226.34,248.83 228.29,248.40 230.20,248.12 C232.12,247.83 233.59,247.72 235.87,247.54 C238.15,247.36 240.04,247.26 243.88,247.03 C247.72,246.80 253.89,246.47 258.89,246.17 C263.90,245.87 268.90,245.47 273.90,245.23 C278.91,244.99 284.30,244.88 288.92,244.72 C293.53,244.57 299.48,244.36 301.59,244.29" fill="none" stroke="#c4654f" stroke-width="0.6" stroke-linejoin="round"/>
<line x1="183.10" y1="280.10" x2="184.30" y2="280.10" stroke="#9a9a9a" stroke-width="0.5" />
<text x="182.40" y="281.50" font-size="3.68" stroke="#111" stroke-width="0.09" text-anchor="end" fill="#111" >0</text>
<line x1="183.10" y1="272.88" x2="184.30" y2="272.88" stroke="#9a9a9a" stroke-width="0.5" />
<text x="182.40" y="274.28" font-size="3.68" stroke="#111" stroke-width="0.09" text-anchor="end" fill="#111" >0.1</text>
<line x1="183.10" y1="265.66" x2="184.30" y2="265.66" stroke="#9a9a9a" stroke-width="0.5" />
<text x="182.40" y="267.06" font-size="3.68" stroke="#111" stroke-width="0.09" text-anchor="end" fill="#111" >0.2</text>
<line x1="183.10" y1="258.44" x2="184.30" y2="258.44" stroke="#9a9a9a" stroke-width="0.5" />
<text x="182.40" y="259.84" font-size="3.68" stroke="#111" stroke-width="0.09" text-anchor="end" fill="#111" >0.3</text>
<line x1="183.10" y1="251.22" x2="184.30" y2="251.22" stroke="#9a9a9a" stroke-width="0.5" />
<text x="182.40" y="252.62" font-size="3.68" stroke="#111" stroke-width="0.09" text-anchor="end" fill="#111" >0.4</text>
<line x1="183.10" y1="244.00" x2="184.30" y2="244.00" stroke="#9a9a9a" stroke-width="0.5" />
<text x="182.40" y="245.40" font-size="3.68" stroke="#111" stroke-width="0.09" text-anchor="end" fill="#111" >0.5</text>
<line x1="183.10" y1="236.78" x2="184.30" y2="236.78" stroke="#9a9a9a" stroke-width="0.5" />
<text x="182.40" y="238.18" font-size="3.68" stroke="#111" stroke-width="0.09" text-anchor="end" fill="#111" >0.6</text>
<line x1="183.10" y1="229.56" x2="184.30" y2="229.56" stroke="#9a9a9a" stroke-width="0.5" />
<text x="182.40" y="230.96" font-size="3.68" stroke="#111" stroke-width="0.09" text-anchor="end" fill="#111" >0.7</text>
<line x1="183.10" y1="222.34" x2="184.30" y2="222.34" stroke="#9a9a9a" stroke-width="0.5" />
<text x="182.40" y="223.74" font-size="3.68" stroke="#111" stroke-width="0.09" text-anchor="end" fill="#111" >0.8</text>
<line x1="183.10" y1="215.12" x2="184.30" y2="215.12" stroke="#9a9a9a" stroke-width="0.5" />
<text x="182.40" y="216.52" font-size="3.68" stroke="#111" stroke-width="0.09" text-anchor="end" fill="#111" >0.9</text>
<line x1="183.10" y1="207.90" x2="184.30" y2="207.90" stroke="#9a9a9a" stroke-width="0.5" />
<text x="182.40" y="209.30" font-size="3.68" stroke="#111" stroke-width="0.09" text-anchor="end" fill="#111" >1.0</text>
<line x1="184.50" y1="280.30" x2="184.50" y2="281.50" stroke="#9a9a9a" stroke-width="0.5" />
<text x="184.50" y="285.60" font-size="3.68" stroke="#111" stroke-width="0.09" text-anchor="middle" fill="#111" >0</text>
<line x1="201.18" y1="280.30" x2="201.18" y2="281.50" stroke="#9a9a9a" stroke-width="0.5" />
<text x="201.18" y="285.60" font-size="3.68" stroke="#111" stroke-width="0.09" text-anchor="middle" fill="#111" >5</text>
<line x1="217.86" y1="280.30" x2="217.86" y2="281.50" stroke="#9a9a9a" stroke-width="0.5" />
<text x="217.86" y="285.60" font-size="3.68" stroke="#111" stroke-width="0.09" text-anchor="middle" fill="#111" >10</text>
<line x1="234.54" y1="280.30" x2="234.54" y2="281.50" stroke="#9a9a9a" stroke-width="0.5" />
<text x="234.54" y="285.60" font-size="3.68" stroke="#111" stroke-width="0.09" text-anchor="middle" fill="#111" >15</text>
<line x1="251.22" y1="280.30" x2="251.22" y2="281.50" stroke="#9a9a9a" stroke-width="0.5" />
<text x="251.22" y="285.60" font-size="3.68" stroke="#111" stroke-width="0.09" text-anchor="middle" fill="#111" >20</text>
<line x1="267.90" y1="280.30" x2="267.90" y2="281.50" stroke="#9a9a9a" stroke-width="0.5" />
<text x="267.90" y="285.60" font-size="3.68" stroke="#111" stroke-width="0.09" text-anchor="middle" fill="#111" >25</text>
<line x1="284.58" y1="280.30" x2="284.58" y2="281.50" stroke="#9a9a9a" stroke-width="0.5" />
<text x="284.58" y="285.60" font-size="3.68" stroke="#111" stroke-width="0.09" text-anchor="middle" fill="#111" >30</text>
<line x1="301.26" y1="280.30" x2="301.26" y2="281.50" stroke="#9a9a9a" stroke-width="0.5" />
<text x="301.26" y="285.60" font-size="3.68" stroke="#111" stroke-width="0.09" text-anchor="middle" fill="#111" >35</text>
<text x="244.25" y="289.50" font-size="3.75" stroke="#111" stroke-width="0.09" text-anchor="middle" fill="#111" >Months after transplantation</text>
<text x="0" y="0" font-size="3.8" text-anchor="middle" fill="#111" stroke="#111" stroke-width="0.09" transform="translate(172.00,244.65) rotate(-90)">Probability</text>
<rect x="271.50" y="201.80" width="31.3" height="19.8" fill="#fff" stroke="#e4e4e4" stroke-width="0.4" rx="0.8"/>
<line x1="272.70" y1="205.00" x2="280.10" y2="205.00" stroke="#7b97c6" stroke-width="0.5" stroke-opacity="0.75"/>
<text x="282.00" y="206.25" font-size="3.5" stroke="#222" stroke-width="0.09" text-anchor="start" fill="#222" textLength="13.2" lengthAdjust="spacingAndGlyphs">Low Risk</text>
<line x1="272.70" y1="209.50" x2="280.10" y2="209.50" stroke="#66a69a" stroke-width="0.5" stroke-opacity="0.75"/>
<text x="282.00" y="210.75" font-size="3.5" stroke="#222" stroke-width="0.09" text-anchor="start" fill="#222" textLength="18.6" lengthAdjust="spacingAndGlyphs">Int-Low Risk</text>
<line x1="272.70" y1="214.00" x2="280.10" y2="214.00" stroke="#e69a78" stroke-width="0.5" stroke-opacity="0.75"/>
<text x="282.00" y="215.25" font-size="3.5" stroke="#222" stroke-width="0.09" text-anchor="start" fill="#222" textLength="19.6" lengthAdjust="spacingAndGlyphs">Int-High Risk</text>
<line x1="272.70" y1="218.50" x2="280.10" y2="218.50" stroke="#c4654f" stroke-width="0.5" stroke-opacity="0.75"/>
<text x="282.00" y="219.75" font-size="3.5" stroke="#222" stroke-width="0.09" text-anchor="start" fill="#222" textLength="13.9" lengthAdjust="spacingAndGlyphs">High Risk</text>
<rect x="184.30" y="314.25" width="121.10" height="80.55" fill="none" stroke="#9a9a9a" stroke-width="0.9"/>
<path d="M194.98,394.50 C195.66,394.45 197.76,394.31 199.02,394.21 C200.28,394.11 201.19,394.08 202.54,393.92 C203.89,393.76 205.41,393.57 207.11,393.27 C208.82,392.97 210.87,392.48 212.79,392.11 C214.72,391.73 216.74,391.33 218.67,391.02 C220.60,390.71 222.48,390.52 224.38,390.22 C226.29,389.92 228.19,389.52 230.10,389.21 C232.00,388.89 233.51,388.63 235.81,388.34 C238.10,388.05 240.01,387.75 243.87,387.47 C247.74,387.19 253.95,386.91 258.99,386.67 C264.03,386.43 269.13,386.21 274.11,386.02 C279.10,385.82 284.30,385.64 288.90,385.51 C293.49,385.38 299.54,385.27 301.66,385.22" fill="none" stroke="#7b97c6" stroke-width="0.6" stroke-linejoin="round"/>
<path d="M194.98,394.50 C195.66,394.44 197.76,394.28 199.02,394.14 C200.28,393.99 201.19,393.87 202.54,393.63 C203.89,393.39 205.41,393.12 207.11,392.69 C208.82,392.25 210.87,391.54 212.79,391.02 C214.72,390.50 216.74,390.05 218.67,389.57 C220.60,389.09 222.48,388.52 224.38,388.12 C226.29,387.72 228.19,387.56 230.10,387.18 C232.00,386.79 233.51,386.24 235.81,385.80 C238.10,385.37 240.01,384.95 243.87,384.57 C247.74,384.18 253.95,383.85 258.99,383.48 C264.03,383.11 269.13,382.69 274.11,382.32 C279.10,381.95 284.30,381.47 288.90,381.23 C293.49,380.99 299.54,380.93 301.66,380.87" fill="none" stroke="#66a69a" stroke-width="0.6" stroke-linejoin="round"/>
<path d="M194.98,394.50 C195.66,394.29 197.76,393.76 199.02,393.27 C200.28,392.77 201.19,392.20 202.54,391.53 C203.89,390.85 205.41,390.08 207.11,389.21 C208.82,388.34 210.87,387.11 212.79,386.31 C214.72,385.51 216.74,384.99 218.67,384.42 C220.60,383.85 222.48,383.40 224.38,382.90 C226.29,382.40 228.19,381.90 230.10,381.45 C232.00,381.00 233.51,380.56 235.81,380.22 C238.10,379.88 240.01,379.94 243.87,379.42 C247.74,378.90 253.95,377.74 258.99,377.10 C264.03,376.46 269.13,375.89 274.11,375.58 C279.10,375.26 284.30,375.35 288.90,375.21 C293.49,375.08 299.54,374.85 301.66,374.78" fill="none" stroke="#e69a78" stroke-width="0.6" stroke-linejoin="round"/>
<path d="M194.98,394.50 C195.66,393.44 197.76,389.96 199.02,388.12 C200.28,386.28 201.19,385.11 202.54,383.48 C203.89,381.85 205.41,379.96 207.11,378.33 C208.82,376.70 210.87,374.95 212.79,373.69 C214.72,372.44 216.74,371.66 218.67,370.79 C220.60,369.92 222.48,369.09 224.38,368.47 C226.29,367.86 228.19,367.52 230.10,367.10 C232.00,366.67 233.51,366.38 235.81,365.94 C238.10,365.49 240.01,365.05 243.87,364.41 C247.74,363.77 253.95,362.66 258.99,362.09 C264.03,361.52 269.13,361.32 274.11,361.00 C279.10,360.69 284.30,360.41 288.90,360.21 C293.49,360.00 299.54,359.84 301.66,359.77" fill="none" stroke="#c4654f" stroke-width="0.6" stroke-linejoin="round"/>
<line x1="183.10" y1="394.50" x2="184.30" y2="394.50" stroke="#9a9a9a" stroke-width="0.5" />
<text x="182.40" y="395.90" font-size="3.68" stroke="#111" stroke-width="0.09" text-anchor="end" fill="#111" >0</text>
<line x1="183.10" y1="387.25" x2="184.30" y2="387.25" stroke="#9a9a9a" stroke-width="0.5" />
<text x="182.40" y="388.65" font-size="3.68" stroke="#111" stroke-width="0.09" text-anchor="end" fill="#111" >0.1</text>
<line x1="183.10" y1="380.00" x2="184.30" y2="380.00" stroke="#9a9a9a" stroke-width="0.5" />
<text x="182.40" y="381.40" font-size="3.68" stroke="#111" stroke-width="0.09" text-anchor="end" fill="#111" >0.2</text>
<line x1="183.10" y1="372.75" x2="184.30" y2="372.75" stroke="#9a9a9a" stroke-width="0.5" />
<text x="182.40" y="374.15" font-size="3.68" stroke="#111" stroke-width="0.09" text-anchor="end" fill="#111" >0.3</text>
<line x1="183.10" y1="365.50" x2="184.30" y2="365.50" stroke="#9a9a9a" stroke-width="0.5" />
<text x="182.40" y="366.90" font-size="3.68" stroke="#111" stroke-width="0.09" text-anchor="end" fill="#111" >0.4</text>
<line x1="183.10" y1="358.25" x2="184.30" y2="358.25" stroke="#9a9a9a" stroke-width="0.5" />
<text x="182.40" y="359.65" font-size="3.68" stroke="#111" stroke-width="0.09" text-anchor="end" fill="#111" >0.5</text>
<line x1="183.10" y1="351.00" x2="184.30" y2="351.00" stroke="#9a9a9a" stroke-width="0.5" />
<text x="182.40" y="352.40" font-size="3.68" stroke="#111" stroke-width="0.09" text-anchor="end" fill="#111" >0.6</text>
<line x1="183.10" y1="343.75" x2="184.30" y2="343.75" stroke="#9a9a9a" stroke-width="0.5" />
<text x="182.40" y="345.15" font-size="3.68" stroke="#111" stroke-width="0.09" text-anchor="end" fill="#111" >0.7</text>
<line x1="183.10" y1="336.50" x2="184.30" y2="336.50" stroke="#9a9a9a" stroke-width="0.5" />
<text x="182.40" y="337.90" font-size="3.68" stroke="#111" stroke-width="0.09" text-anchor="end" fill="#111" >0.8</text>
<line x1="183.10" y1="329.25" x2="184.30" y2="329.25" stroke="#9a9a9a" stroke-width="0.5" />
<text x="182.40" y="330.65" font-size="3.68" stroke="#111" stroke-width="0.09" text-anchor="end" fill="#111" >0.9</text>
<line x1="183.10" y1="322.00" x2="184.30" y2="322.00" stroke="#9a9a9a" stroke-width="0.5" />
<text x="182.40" y="323.40" font-size="3.68" stroke="#111" stroke-width="0.09" text-anchor="end" fill="#111" >1.0</text>
<line x1="184.40" y1="394.80" x2="184.40" y2="396.00" stroke="#9a9a9a" stroke-width="0.5" />
<text x="184.40" y="400.10" font-size="3.68" stroke="#111" stroke-width="0.09" text-anchor="middle" fill="#111" >0</text>
<line x1="201.20" y1="394.80" x2="201.20" y2="396.00" stroke="#9a9a9a" stroke-width="0.5" />
<text x="201.20" y="400.10" font-size="3.68" stroke="#111" stroke-width="0.09" text-anchor="middle" fill="#111" >5</text>
<line x1="218.00" y1="394.80" x2="218.00" y2="396.00" stroke="#9a9a9a" stroke-width="0.5" />
<text x="218.00" y="400.10" font-size="3.68" stroke="#111" stroke-width="0.09" text-anchor="middle" fill="#111" >10</text>
<line x1="234.80" y1="394.80" x2="234.80" y2="396.00" stroke="#9a9a9a" stroke-width="0.5" />
<text x="234.80" y="400.10" font-size="3.68" stroke="#111" stroke-width="0.09" text-anchor="middle" fill="#111" >15</text>
<line x1="251.60" y1="394.80" x2="251.60" y2="396.00" stroke="#9a9a9a" stroke-width="0.5" />
<text x="251.60" y="400.10" font-size="3.68" stroke="#111" stroke-width="0.09" text-anchor="middle" fill="#111" >20</text>
<line x1="268.40" y1="394.80" x2="268.40" y2="396.00" stroke="#9a9a9a" stroke-width="0.5" />
<text x="268.40" y="400.10" font-size="3.68" stroke="#111" stroke-width="0.09" text-anchor="middle" fill="#111" >25</text>
<line x1="285.20" y1="394.80" x2="285.20" y2="396.00" stroke="#9a9a9a" stroke-width="0.5" />
<text x="285.20" y="400.10" font-size="3.68" stroke="#111" stroke-width="0.09" text-anchor="middle" fill="#111" >30</text>
<line x1="302.00" y1="394.80" x2="302.00" y2="396.00" stroke="#9a9a9a" stroke-width="0.5" />
<text x="302.00" y="400.10" font-size="3.68" stroke="#111" stroke-width="0.09" text-anchor="middle" fill="#111" >35</text>
<text x="244.85" y="404.00" font-size="3.75" stroke="#111" stroke-width="0.09" text-anchor="middle" fill="#111" >Months after transplantation</text>
<text x="0" y="0" font-size="3.8" text-anchor="middle" fill="#111" stroke="#111" stroke-width="0.09" transform="translate(172.00,357.02) rotate(-90)">Probability</text>
<rect x="272.70" y="315.65" width="31.3" height="19.8" fill="#fff" stroke="#e4e4e4" stroke-width="0.4" rx="0.8"/>
<line x1="273.90" y1="318.85" x2="281.30" y2="318.85" stroke="#7b97c6" stroke-width="0.5" stroke-opacity="0.75"/>
<text x="283.20" y="320.10" font-size="3.5" stroke="#222" stroke-width="0.09" text-anchor="start" fill="#222" textLength="13.2" lengthAdjust="spacingAndGlyphs">Low Risk</text>
<line x1="273.90" y1="323.35" x2="281.30" y2="323.35" stroke="#66a69a" stroke-width="0.5" stroke-opacity="0.75"/>
<text x="283.20" y="324.60" font-size="3.5" stroke="#222" stroke-width="0.09" text-anchor="start" fill="#222" textLength="18.6" lengthAdjust="spacingAndGlyphs">Int-Low Risk</text>
<line x1="273.90" y1="327.85" x2="281.30" y2="327.85" stroke="#e69a78" stroke-width="0.5" stroke-opacity="0.75"/>
<text x="283.20" y="329.10" font-size="3.5" stroke="#222" stroke-width="0.09" text-anchor="start" fill="#222" textLength="19.6" lengthAdjust="spacingAndGlyphs">Int-High Risk</text>
<line x1="273.90" y1="332.35" x2="281.30" y2="332.35" stroke="#c4654f" stroke-width="0.5" stroke-opacity="0.75"/>
<text x="283.20" y="333.60" font-size="3.5" stroke="#222" stroke-width="0.09" text-anchor="start" fill="#222" textLength="13.9" lengthAdjust="spacingAndGlyphs">High Risk</text>
<rect x="185.40" y="428.40" width="121.60" height="80.70" fill="none" stroke="#9a9a9a" stroke-width="0.9"/>
<path d="M185.30,435.90 L196.08,435.90 C196.93,436.03 199.34,436.34 201.14,436.71 C202.94,437.07 204.93,437.58 206.87,438.10 C208.81,438.61 210.83,439.22 212.77,439.78 C214.70,440.34 216.56,440.88 218.49,441.46 C220.43,442.05 222.45,442.73 224.39,443.29 C226.33,443.85 228.21,444.34 230.12,444.83 C232.03,445.32 233.55,445.78 235.85,446.22 C238.15,446.66 240.06,447.00 243.94,447.47 C247.81,447.93 254.10,448.37 259.10,449.00 C264.10,449.64 268.93,450.64 273.93,451.27 C278.93,451.91 284.21,452.41 289.10,452.81 C293.98,453.21 300.89,453.54 303.25,453.69" fill="none" stroke="#7b97c6" stroke-width="0.6" stroke-linejoin="round"/>
<path d="M185.30,435.90 L196.08,435.90 C196.93,436.12 199.34,436.67 201.14,437.22 C202.94,437.77 204.93,438.49 206.87,439.19 C208.81,439.90 210.83,440.73 212.77,441.46 C214.70,442.20 216.56,442.90 218.49,443.59 C220.43,444.27 222.45,444.94 224.39,445.56 C226.33,446.18 228.21,446.79 230.12,447.32 C232.03,447.84 233.55,448.23 235.85,448.71 C238.15,449.19 240.06,449.54 243.94,450.17 C247.81,450.81 254.10,451.75 259.10,452.52 C264.10,453.29 268.93,454.15 273.93,454.79 C278.93,455.42 284.21,455.83 289.10,456.32 C293.98,456.81 300.89,457.48 303.25,457.71" fill="none" stroke="#66a69a" stroke-width="0.6" stroke-linejoin="round"/>
<path d="M185.30,435.90 L196.08,435.90 C196.93,436.45 199.34,437.96 201.14,439.19 C202.94,440.43 204.93,441.94 206.87,443.29 C208.81,444.65 210.83,446.06 212.77,447.32 C214.70,448.58 216.56,449.87 218.49,450.83 C220.43,451.80 222.45,452.44 224.39,453.10 C226.33,453.76 228.21,454.22 230.12,454.79 C232.03,455.35 233.55,455.88 235.85,456.47 C238.15,457.05 240.06,457.51 243.94,458.30 C247.81,459.09 254.10,460.36 259.10,461.23 C264.10,462.09 268.93,462.84 273.93,463.50 C278.93,464.16 284.21,464.64 289.10,465.18 C293.98,465.72 300.89,466.46 303.25,466.72" fill="none" stroke="#e69a78" stroke-width="0.6" stroke-linejoin="round"/>
<path d="M185.30,435.90 L196.08,435.90 C196.56,436.85 197.88,439.50 198.95,441.61 C200.02,443.72 201.34,446.45 202.49,448.56 C203.64,450.67 204.73,452.64 205.86,454.27 C206.98,455.91 208.08,457.31 209.23,458.37 C210.38,459.43 211.59,459.98 212.77,460.64 C213.94,461.30 214.96,461.67 216.30,462.33 C217.65,462.98 219.34,463.86 220.85,464.59 C222.37,465.33 223.86,466.13 225.40,466.72 C226.95,467.30 228.38,467.64 230.12,468.11 C231.86,468.57 233.55,469.12 235.85,469.50 C238.15,469.88 240.06,469.84 243.94,470.38 C247.81,470.91 254.10,472.15 259.10,472.72 C264.10,473.29 268.93,473.44 273.93,473.82 C278.93,474.20 284.21,474.70 289.10,474.99 C293.98,475.28 300.89,475.48 303.25,475.57" fill="none" stroke="#c4654f" stroke-width="0.6" stroke-linejoin="round"/>
<line x1="184.20" y1="509.10" x2="185.40" y2="509.10" stroke="#9a9a9a" stroke-width="0.5" />
<text x="183.50" y="510.50" font-size="3.68" stroke="#111" stroke-width="0.09" text-anchor="end" fill="#111" >0</text>
<line x1="184.20" y1="501.78" x2="185.40" y2="501.78" stroke="#9a9a9a" stroke-width="0.5" />
<text x="183.50" y="503.18" font-size="3.68" stroke="#111" stroke-width="0.09" text-anchor="end" fill="#111" >0.1</text>
<line x1="184.20" y1="494.46" x2="185.40" y2="494.46" stroke="#9a9a9a" stroke-width="0.5" />
<text x="183.50" y="495.86" font-size="3.68" stroke="#111" stroke-width="0.09" text-anchor="end" fill="#111" >0.2</text>
<line x1="184.20" y1="487.14" x2="185.40" y2="487.14" stroke="#9a9a9a" stroke-width="0.5" />
<text x="183.50" y="488.54" font-size="3.68" stroke="#111" stroke-width="0.09" text-anchor="end" fill="#111" >0.3</text>
<line x1="184.20" y1="479.82" x2="185.40" y2="479.82" stroke="#9a9a9a" stroke-width="0.5" />
<text x="183.50" y="481.22" font-size="3.68" stroke="#111" stroke-width="0.09" text-anchor="end" fill="#111" >0.4</text>
<line x1="184.20" y1="472.50" x2="185.40" y2="472.50" stroke="#9a9a9a" stroke-width="0.5" />
<text x="183.50" y="473.90" font-size="3.68" stroke="#111" stroke-width="0.09" text-anchor="end" fill="#111" >0.5</text>
<line x1="184.20" y1="465.18" x2="185.40" y2="465.18" stroke="#9a9a9a" stroke-width="0.5" />
<text x="183.50" y="466.58" font-size="3.68" stroke="#111" stroke-width="0.09" text-anchor="end" fill="#111" >0.6</text>
<line x1="184.20" y1="457.86" x2="185.40" y2="457.86" stroke="#9a9a9a" stroke-width="0.5" />
<text x="183.50" y="459.26" font-size="3.68" stroke="#111" stroke-width="0.09" text-anchor="end" fill="#111" >0.7</text>
<line x1="184.20" y1="450.54" x2="185.40" y2="450.54" stroke="#9a9a9a" stroke-width="0.5" />
<text x="183.50" y="451.94" font-size="3.68" stroke="#111" stroke-width="0.09" text-anchor="end" fill="#111" >0.8</text>
<line x1="184.20" y1="443.22" x2="185.40" y2="443.22" stroke="#9a9a9a" stroke-width="0.5" />
<text x="183.50" y="444.62" font-size="3.68" stroke="#111" stroke-width="0.09" text-anchor="end" fill="#111" >0.9</text>
<line x1="184.20" y1="435.90" x2="185.40" y2="435.90" stroke="#9a9a9a" stroke-width="0.5" />
<text x="183.50" y="437.30" font-size="3.68" stroke="#111" stroke-width="0.09" text-anchor="end" fill="#111" >1.0</text>
<line x1="185.30" y1="509.10" x2="185.30" y2="510.30" stroke="#9a9a9a" stroke-width="0.5" />
<text x="185.30" y="514.40" font-size="3.68" stroke="#111" stroke-width="0.09" text-anchor="middle" fill="#111" >0</text>
<line x1="202.15" y1="509.10" x2="202.15" y2="510.30" stroke="#9a9a9a" stroke-width="0.5" />
<text x="202.15" y="514.40" font-size="3.68" stroke="#111" stroke-width="0.09" text-anchor="middle" fill="#111" >5</text>
<line x1="219.00" y1="509.10" x2="219.00" y2="510.30" stroke="#9a9a9a" stroke-width="0.5" />
<text x="219.00" y="514.40" font-size="3.68" stroke="#111" stroke-width="0.09" text-anchor="middle" fill="#111" >10</text>
<line x1="235.85" y1="509.10" x2="235.85" y2="510.30" stroke="#9a9a9a" stroke-width="0.5" />
<text x="235.85" y="514.40" font-size="3.68" stroke="#111" stroke-width="0.09" text-anchor="middle" fill="#111" >15</text>
<line x1="252.70" y1="509.10" x2="252.70" y2="510.30" stroke="#9a9a9a" stroke-width="0.5" />
<text x="252.70" y="514.40" font-size="3.68" stroke="#111" stroke-width="0.09" text-anchor="middle" fill="#111" >20</text>
<line x1="269.55" y1="509.10" x2="269.55" y2="510.30" stroke="#9a9a9a" stroke-width="0.5" />
<text x="269.55" y="514.40" font-size="3.68" stroke="#111" stroke-width="0.09" text-anchor="middle" fill="#111" >25</text>
<line x1="286.40" y1="509.10" x2="286.40" y2="510.30" stroke="#9a9a9a" stroke-width="0.5" />
<text x="286.40" y="514.40" font-size="3.68" stroke="#111" stroke-width="0.09" text-anchor="middle" fill="#111" >30</text>
<line x1="303.25" y1="509.10" x2="303.25" y2="510.30" stroke="#9a9a9a" stroke-width="0.5" />
<text x="303.25" y="514.40" font-size="3.68" stroke="#111" stroke-width="0.09" text-anchor="middle" fill="#111" >35</text>
<text x="246.20" y="518.30" font-size="3.75" stroke="#111" stroke-width="0.09" text-anchor="middle" fill="#111" >Months after transplantation</text>
<text x="0" y="0" font-size="3.8" text-anchor="middle" fill="#111" stroke="#111" stroke-width="0.09" transform="translate(173.10,472.75) rotate(-90)">Probability</text>
<rect x="274.30" y="429.80" width="31.3" height="19.8" fill="#fff" stroke="#e4e4e4" stroke-width="0.4" rx="0.8"/>
<line x1="275.50" y1="433.00" x2="282.90" y2="433.00" stroke="#7b97c6" stroke-width="0.5" stroke-opacity="0.75"/>
<text x="284.80" y="434.25" font-size="3.5" stroke="#222" stroke-width="0.09" text-anchor="start" fill="#222" textLength="13.2" lengthAdjust="spacingAndGlyphs">Low Risk</text>
<line x1="275.50" y1="437.50" x2="282.90" y2="437.50" stroke="#66a69a" stroke-width="0.5" stroke-opacity="0.75"/>
<text x="284.80" y="438.75" font-size="3.5" stroke="#222" stroke-width="0.09" text-anchor="start" fill="#222" textLength="18.6" lengthAdjust="spacingAndGlyphs">Int-Low Risk</text>
<line x1="275.50" y1="442.00" x2="282.90" y2="442.00" stroke="#e69a78" stroke-width="0.5" stroke-opacity="0.75"/>
<text x="284.80" y="443.25" font-size="3.5" stroke="#222" stroke-width="0.09" text-anchor="start" fill="#222" textLength="19.6" lengthAdjust="spacingAndGlyphs">Int-High Risk</text>
<line x1="275.50" y1="446.50" x2="282.90" y2="446.50" stroke="#c4654f" stroke-width="0.5" stroke-opacity="0.75"/>
<text x="284.80" y="447.75" font-size="3.5" stroke="#222" stroke-width="0.09" text-anchor="start" fill="#222" textLength="13.9" lengthAdjust="spacingAndGlyphs">High Risk</text>
<rect x="372.50" y="204.40" width="113.50" height="5.00" fill="#4a7fe4" />
<text x="365.60" y="206.50" font-size="5.15" font-weight="bold" stroke="#0a0a0a" stroke-width="0.3" text-anchor="end" fill="#0a0a0a" textLength="35.43" lengthAdjust="spacingAndGlyphs">Donor source</text>
<rect x="372.50" y="211.67" width="103.80" height="5.00" fill="#4a7fe4" />
<text x="365.60" y="213.77" font-size="5.15" font-weight="bold" stroke="#0a0a0a" stroke-width="0.3" text-anchor="end" fill="#0a0a0a" textLength="31.50" lengthAdjust="spacingAndGlyphs">g2-4 aGVHD</text>
<rect x="372.50" y="218.94" width="72.60" height="5.00" fill="#4a7fe4" />
<text x="365.60" y="221.04" font-size="5.15" font-weight="bold" stroke="#0a0a0a" stroke-width="0.3" text-anchor="end" fill="#0a0a0a" textLength="35.13" lengthAdjust="spacingAndGlyphs">Sex Matching</text>
<rect x="372.50" y="226.21" width="41.40" height="5.00" fill="#4a7fe4" />
<text x="365.60" y="228.31" font-size="5.15" font-weight="bold" stroke="#0a0a0a" stroke-width="0.3" text-anchor="end" fill="#0a0a0a" textLength="23.31" lengthAdjust="spacingAndGlyphs">RIC/MAC</text>
<rect x="372.50" y="233.48" width="40.80" height="5.00" fill="#4a7fe4" />
<text x="365.60" y="235.58" font-size="5.15" font-weight="bold" stroke="#0a0a0a" stroke-width="0.3" text-anchor="end" fill="#0a0a0a" textLength="37.54" lengthAdjust="spacingAndGlyphs">ABO Matching</text>
<rect x="372.50" y="240.75" width="40.30" height="5.00" fill="#4a7fe4" />
<text x="365.60" y="242.85" font-size="5.15" font-weight="bold" stroke="#0a0a0a" stroke-width="0.3" text-anchor="end" fill="#0a0a0a" textLength="7.27" lengthAdjust="spacingAndGlyphs">PS</text>
<rect x="372.50" y="248.02" width="33.30" height="5.00" fill="#4a7fe4" />
<text x="365.60" y="250.12" font-size="5.15" font-weight="bold" stroke="#0a0a0a" stroke-width="0.3" text-anchor="end" fill="#0a0a0a" textLength="11.51" lengthAdjust="spacingAndGlyphs">rDRI</text>
<rect x="372.50" y="255.29" width="22.50" height="5.00" fill="#4a7fe4" />
<text x="365.60" y="257.39" font-size="5.15" font-weight="bold" stroke="#0a0a0a" stroke-width="0.3" text-anchor="end" fill="#0a0a0a" textLength="8.78" lengthAdjust="spacingAndGlyphs">TBI</text>
<rect x="372.50" y="262.56" width="13.10" height="5.00" fill="#4a7fe4" />
<text x="365.60" y="264.66" font-size="5.15" font-weight="bold" stroke="#0a0a0a" stroke-width="0.3" text-anchor="end" fill="#0a0a0a" textLength="44.52" lengthAdjust="spacingAndGlyphs">aGVHD response</text>
<rect x="372.50" y="269.83" width="11.70" height="5.00" fill="#4a7fe4" />
<text x="365.60" y="271.93" font-size="5.15" font-weight="bold" stroke="#0a0a0a" stroke-width="0.3" text-anchor="end" fill="#0a0a0a" textLength="39.67" lengthAdjust="spacingAndGlyphs">T cell depletion</text>
<line x1="371.10" y1="280.15" x2="491.30" y2="280.15" stroke="#8a8a8a" stroke-width="0.5" />
<line x1="371.80" y1="280.15" x2="371.80" y2="281.15" stroke="#999" stroke-width="0.4" />
<text x="371.80" y="284.05" font-size="3.2" stroke="#555" stroke-width="0.09" text-anchor="middle" fill="#555" textLength="9.01" lengthAdjust="spacingAndGlyphs">0.000</text>
<line x1="397.07" y1="280.15" x2="397.07" y2="281.15" stroke="#999" stroke-width="0.4" />
<text x="397.07" y="284.05" font-size="3.2" stroke="#555" stroke-width="0.09" text-anchor="middle" fill="#555" textLength="9.01" lengthAdjust="spacingAndGlyphs">0.002</text>
<line x1="422.34" y1="280.15" x2="422.34" y2="281.15" stroke="#999" stroke-width="0.4" />
<text x="422.34" y="284.05" font-size="3.2" stroke="#555" stroke-width="0.09" text-anchor="middle" fill="#555" textLength="9.01" lengthAdjust="spacingAndGlyphs">0.004</text>
<line x1="447.61" y1="280.15" x2="447.61" y2="281.15" stroke="#999" stroke-width="0.4" />
<text x="447.61" y="284.05" font-size="3.2" stroke="#555" stroke-width="0.09" text-anchor="middle" fill="#555" textLength="9.01" lengthAdjust="spacingAndGlyphs">0.006</text>
<line x1="472.88" y1="280.15" x2="472.88" y2="281.15" stroke="#999" stroke-width="0.4" />
<text x="472.88" y="284.05" font-size="3.2" stroke="#555" stroke-width="0.09" text-anchor="middle" fill="#555" textLength="9.01" lengthAdjust="spacingAndGlyphs">0.008</text>
<text x="431.40" y="288.00" font-size="3.9" stroke="#222" stroke-width="0.09" text-anchor="middle" fill="#222" textLength="117.20" lengthAdjust="spacingAndGlyphs">mean(|SHAP value|) (average impact on model output magnitude)</text>
<rect x="467.90" y="274.20" width="6.60" height="2.00" fill="#4a63dc" />
<text x="477.00" y="276.55" font-size="3.8" stroke="#333" stroke-width="0.09" text-anchor="start" fill="#333" textLength="12.00" lengthAdjust="spacingAndGlyphs">Class 0</text>
<rect x="376.20" y="317.70" width="106.80" height="5.00" fill="#4a7fe4" />
<text x="369.00" y="321.35" font-size="5.15" font-weight="bold" stroke="#0a0a0a" stroke-width="0.3" text-anchor="end" fill="#0a0a0a" textLength="35.43" lengthAdjust="spacingAndGlyphs">Donor source</text>
<rect x="376.20" y="325.03" width="55.20" height="5.00" fill="#4a7fe4" />
<text x="369.00" y="328.68" font-size="5.15" font-weight="bold" stroke="#0a0a0a" stroke-width="0.3" text-anchor="end" fill="#0a0a0a" textLength="7.27" lengthAdjust="spacingAndGlyphs">PS</text>
<rect x="376.20" y="332.36" width="41.70" height="5.00" fill="#4a7fe4" />
<text x="369.00" y="336.01" font-size="5.15" font-weight="bold" stroke="#0a0a0a" stroke-width="0.3" text-anchor="end" fill="#0a0a0a" textLength="11.51" lengthAdjust="spacingAndGlyphs">rDRI</text>
<rect x="376.20" y="339.69" width="40.90" height="5.00" fill="#4a7fe4" />
<text x="369.00" y="343.34" font-size="5.15" font-weight="bold" stroke="#0a0a0a" stroke-width="0.3" text-anchor="end" fill="#0a0a0a" textLength="31.50" lengthAdjust="spacingAndGlyphs">g3-4 aGVHD</text>
<rect x="376.20" y="347.02" width="32.80" height="5.00" fill="#4a7fe4" />
<text x="369.00" y="350.67" font-size="5.15" font-weight="bold" stroke="#0a0a0a" stroke-width="0.3" text-anchor="end" fill="#0a0a0a" textLength="35.13" lengthAdjust="spacingAndGlyphs">Sex Matching</text>
<rect x="376.20" y="354.35" width="30.90" height="5.00" fill="#4a7fe4" />
<text x="369.00" y="358.00" font-size="5.15" font-weight="bold" stroke="#0a0a0a" stroke-width="0.3" text-anchor="end" fill="#0a0a0a" textLength="18.17" lengthAdjust="spacingAndGlyphs">HCT-CI</text>
<rect x="376.20" y="361.68" width="21.50" height="5.00" fill="#4a7fe4" />
<text x="369.00" y="365.33" font-size="5.15" font-weight="bold" stroke="#0a0a0a" stroke-width="0.3" text-anchor="end" fill="#0a0a0a" textLength="56.33" lengthAdjust="spacingAndGlyphs">post-Tx aGVHD grade</text>
<rect x="376.20" y="369.01" width="19.30" height="5.00" fill="#4a7fe4" />
<text x="369.00" y="372.66" font-size="5.15" font-weight="bold" stroke="#0a0a0a" stroke-width="0.3" text-anchor="end" fill="#0a0a0a" textLength="37.54" lengthAdjust="spacingAndGlyphs">ABO Matching</text>
<rect x="376.20" y="376.34" width="11.80" height="5.00" fill="#4a7fe4" />
<text x="369.00" y="379.99" font-size="5.15" font-weight="bold" stroke="#0a0a0a" stroke-width="0.3" text-anchor="end" fill="#0a0a0a" textLength="8.78" lengthAdjust="spacingAndGlyphs">TBI</text>
<rect x="376.20" y="383.67" width="8.00" height="5.00" fill="#4a7fe4" />
<text x="369.00" y="387.32" font-size="5.15" font-weight="bold" stroke="#0a0a0a" stroke-width="0.3" text-anchor="end" fill="#0a0a0a" textLength="23.31" lengthAdjust="spacingAndGlyphs">RIC/MAC</text>
<line x1="375.80" y1="393.35" x2="489.00" y2="393.35" stroke="#8a8a8a" stroke-width="0.5" />
<line x1="369.80" y1="393.35" x2="369.80" y2="394.35" stroke="#999" stroke-width="0.4" />
<text x="369.80" y="397.25" font-size="3.2" stroke="#555" stroke-width="0.09" text-anchor="middle" fill="#555" textLength="11.01" lengthAdjust="spacingAndGlyphs">0.0000</text>
<line x1="383.22" y1="393.35" x2="383.22" y2="394.35" stroke="#999" stroke-width="0.4" />
<text x="383.22" y="397.25" font-size="3.2" stroke="#555" stroke-width="0.09" text-anchor="middle" fill="#555" textLength="11.01" lengthAdjust="spacingAndGlyphs">0.0005</text>
<line x1="396.64" y1="393.35" x2="396.64" y2="394.35" stroke="#999" stroke-width="0.4" />
<text x="396.64" y="397.25" font-size="3.2" stroke="#555" stroke-width="0.09" text-anchor="middle" fill="#555" textLength="11.01" lengthAdjust="spacingAndGlyphs">0.0010</text>
<line x1="410.06" y1="393.35" x2="410.06" y2="394.35" stroke="#999" stroke-width="0.4" />
<text x="410.06" y="397.25" font-size="3.2" stroke="#555" stroke-width="0.09" text-anchor="middle" fill="#555" textLength="11.01" lengthAdjust="spacingAndGlyphs">0.0015</text>
<line x1="423.48" y1="393.35" x2="423.48" y2="394.35" stroke="#999" stroke-width="0.4" />
<text x="423.48" y="397.25" font-size="3.2" stroke="#555" stroke-width="0.09" text-anchor="middle" fill="#555" textLength="11.01" lengthAdjust="spacingAndGlyphs">0.0020</text>
<line x1="436.90" y1="393.35" x2="436.90" y2="394.35" stroke="#999" stroke-width="0.4" />
<text x="436.90" y="397.25" font-size="3.2" stroke="#555" stroke-width="0.09" text-anchor="middle" fill="#555" textLength="11.01" lengthAdjust="spacingAndGlyphs">0.0025</text>
<line x1="450.32" y1="393.35" x2="450.32" y2="394.35" stroke="#999" stroke-width="0.4" />
<text x="450.32" y="397.25" font-size="3.2" stroke="#555" stroke-width="0.09" text-anchor="middle" fill="#555" textLength="11.01" lengthAdjust="spacingAndGlyphs">0.0030</text>
<line x1="463.74" y1="393.35" x2="463.74" y2="394.35" stroke="#999" stroke-width="0.4" />
<text x="463.74" y="397.25" font-size="3.2" stroke="#555" stroke-width="0.09" text-anchor="middle" fill="#555" textLength="11.01" lengthAdjust="spacingAndGlyphs">0.0035</text>
<line x1="477.16" y1="393.35" x2="477.16" y2="394.35" stroke="#999" stroke-width="0.4" />
<text x="477.16" y="397.25" font-size="3.2" stroke="#555" stroke-width="0.09" text-anchor="middle" fill="#555" textLength="11.01" lengthAdjust="spacingAndGlyphs">0.0040</text>
<text x="428.85" y="401.80" font-size="3.9" stroke="#222" stroke-width="0.09" text-anchor="middle" fill="#222" textLength="116.90" lengthAdjust="spacingAndGlyphs">mean(|SHAP value|) (average impact on model output magnitude)</text>
<rect x="465.30" y="387.70" width="6.40" height="2.00" fill="#4a63dc" />
<text x="473.70" y="390.05" font-size="3.8" stroke="#333" stroke-width="0.09" text-anchor="start" fill="#333" textLength="11.90" lengthAdjust="spacingAndGlyphs">Class 0</text>
<rect x="376.20" y="432.50" width="109.80" height="5.00" fill="#4a7fe4" />
<text x="369.00" y="436.15" font-size="5.15" font-weight="bold" stroke="#0a0a0a" stroke-width="0.3" text-anchor="end" fill="#0a0a0a" textLength="35.13" lengthAdjust="spacingAndGlyphs">Sex Matching</text>
<rect x="376.20" y="439.75" width="98.80" height="5.00" fill="#4a7fe4" />
<text x="369.00" y="443.40" font-size="5.15" font-weight="bold" stroke="#0a0a0a" stroke-width="0.3" text-anchor="end" fill="#0a0a0a" textLength="35.43" lengthAdjust="spacingAndGlyphs">Donor source</text>
<rect x="376.20" y="447.00" width="97.70" height="5.00" fill="#4a7fe4" />
<text x="369.00" y="450.65" font-size="5.15" font-weight="bold" stroke="#0a0a0a" stroke-width="0.3" text-anchor="end" fill="#0a0a0a" textLength="11.51" lengthAdjust="spacingAndGlyphs">rDRI</text>
<rect x="376.20" y="454.25" width="71.60" height="5.00" fill="#4a7fe4" />
<text x="369.00" y="457.90" font-size="5.15" font-weight="bold" stroke="#0a0a0a" stroke-width="0.3" text-anchor="end" fill="#0a0a0a" textLength="37.54" lengthAdjust="spacingAndGlyphs">ABO Matching</text>
<rect x="376.20" y="461.50" width="70.80" height="5.00" fill="#4a7fe4" />
<text x="369.00" y="465.15" font-size="5.15" font-weight="bold" stroke="#0a0a0a" stroke-width="0.3" text-anchor="end" fill="#0a0a0a" textLength="7.27" lengthAdjust="spacingAndGlyphs">PS</text>
<rect x="376.20" y="468.75" width="39.00" height="5.00" fill="#4a7fe4" />
<text x="369.00" y="472.40" font-size="5.15" font-weight="bold" stroke="#0a0a0a" stroke-width="0.3" text-anchor="end" fill="#0a0a0a" textLength="31.50" lengthAdjust="spacingAndGlyphs">g3-4 aGVHD</text>
<rect x="376.20" y="476.00" width="33.30" height="5.00" fill="#4a7fe4" />
<text x="369.00" y="479.65" font-size="5.15" font-weight="bold" stroke="#0a0a0a" stroke-width="0.3" text-anchor="end" fill="#0a0a0a" textLength="23.31" lengthAdjust="spacingAndGlyphs">RIC/MAC</text>
<rect x="376.20" y="483.25" width="27.40" height="5.00" fill="#4a7fe4" />
<text x="369.00" y="486.90" font-size="5.15" font-weight="bold" stroke="#0a0a0a" stroke-width="0.3" text-anchor="end" fill="#0a0a0a" textLength="39.67" lengthAdjust="spacingAndGlyphs">T cell depletion</text>
<rect x="376.20" y="490.50" width="22.60" height="5.00" fill="#4a7fe4" />
<text x="369.00" y="494.15" font-size="5.15" font-weight="bold" stroke="#0a0a0a" stroke-width="0.3" text-anchor="end" fill="#0a0a0a" textLength="18.17" lengthAdjust="spacingAndGlyphs">HCT-CI</text>
<rect x="376.20" y="497.75" width="21.50" height="5.00" fill="#4a7fe4" />
<text x="369.00" y="501.40" font-size="5.15" font-weight="bold" stroke="#0a0a0a" stroke-width="0.3" text-anchor="end" fill="#0a0a0a" textLength="52.49" lengthAdjust="spacingAndGlyphs">HLA locus matching</text>
<line x1="375.30" y1="507.30" x2="491.90" y2="507.30" stroke="#8a8a8a" stroke-width="0.5" />
<line x1="375.00" y1="507.30" x2="375.00" y2="508.30" stroke="#999" stroke-width="0.4" />
<text x="375.00" y="511.20" font-size="3.2" stroke="#555" stroke-width="0.09" text-anchor="middle" fill="#555" textLength="11.01" lengthAdjust="spacingAndGlyphs">0.0000</text>
<line x1="396.55" y1="507.30" x2="396.55" y2="508.30" stroke="#999" stroke-width="0.4" />
<text x="396.55" y="511.20" font-size="3.2" stroke="#555" stroke-width="0.09" text-anchor="middle" fill="#555" textLength="11.01" lengthAdjust="spacingAndGlyphs">0.0005</text>
<line x1="418.10" y1="507.30" x2="418.10" y2="508.30" stroke="#999" stroke-width="0.4" />
<text x="418.10" y="511.20" font-size="3.2" stroke="#555" stroke-width="0.09" text-anchor="middle" fill="#555" textLength="11.01" lengthAdjust="spacingAndGlyphs">0.0010</text>
<line x1="439.65" y1="507.30" x2="439.65" y2="508.30" stroke="#999" stroke-width="0.4" />
<text x="439.65" y="511.20" font-size="3.2" stroke="#555" stroke-width="0.09" text-anchor="middle" fill="#555" textLength="11.01" lengthAdjust="spacingAndGlyphs">0.0015</text>
<line x1="461.20" y1="507.30" x2="461.20" y2="508.30" stroke="#999" stroke-width="0.4" />
<text x="461.20" y="511.20" font-size="3.2" stroke="#555" stroke-width="0.09" text-anchor="middle" fill="#555" textLength="11.01" lengthAdjust="spacingAndGlyphs">0.0020</text>
<line x1="482.75" y1="507.30" x2="482.75" y2="508.30" stroke="#999" stroke-width="0.4" />
<text x="482.75" y="511.20" font-size="3.2" stroke="#555" stroke-width="0.09" text-anchor="middle" fill="#555" textLength="11.01" lengthAdjust="spacingAndGlyphs">0.0025</text>
<text x="433.30" y="515.70" font-size="3.9" stroke="#222" stroke-width="0.09" text-anchor="middle" fill="#222" textLength="113.80" lengthAdjust="spacingAndGlyphs">mean(|SHAP value|) (average impact on model output magnitude)</text>
<rect x="468.30" y="501.80" width="6.90" height="2.00" fill="#4a63dc" />
<text x="477.50" y="504.15" font-size="3.8" stroke="#333" stroke-width="0.09" text-anchor="start" fill="#333" textLength="11.50" lengthAdjust="spacingAndGlyphs">Class 0</text>
</svg>
</body></html>
